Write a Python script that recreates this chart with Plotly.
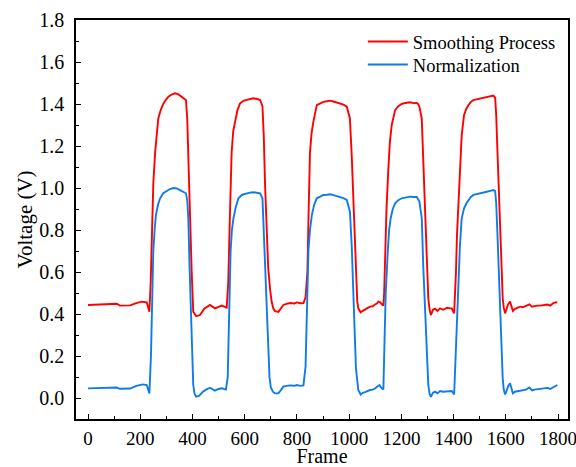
import plotly.graph_objects as go

# ---- data ----
red_frames = [0, 30, 60, 90, 110, 122, 140, 161, 185, 205, 225, 235, 240, 245, 250, 257, 263, 269, 278, 288,
              298, 308, 320, 333, 345, 352, 362, 375, 380, 385, 391, 397, 403, 414, 429, 445, 467, 486, 499, 512,
              531, 537, 543, 550, 556, 563, 572, 582, 595, 608, 620, 633, 645, 659, 668, 673, 678, 684, 690, 697,
              703, 710, 716, 729, 740, 748, 760, 774, 790, 800, 812, 825, 833, 840, 845, 850, 856, 863, 876, 889,
              901, 915, 927, 940, 952, 965, 978, 991, 1003, 1010, 1016, 1021, 1026, 1031, 1035, 1044, 1052, 1061, 1070, 1080,
              1090, 1099, 1106, 1112, 1120, 1125, 1131, 1134, 1137, 1143, 1150, 1156, 1163, 1176, 1188, 1201, 1215, 1233, 1246, 1259,
              1265, 1269, 1278, 1284, 1291, 1297, 1303, 1308, 1313, 1321, 1329, 1338, 1348, 1360, 1375, 1386, 1393, 1402, 1405, 1409,
              1413, 1418, 1424, 1431, 1440, 1448, 1457, 1466, 1476, 1490, 1502, 1514, 1527, 1540, 1552, 1559, 1563, 1568, 1573, 1578,
              1583, 1588, 1592, 1597, 1602, 1608, 1616, 1622, 1627, 1635, 1645, 1655, 1665, 1677, 1690, 1700, 1710, 1720, 1731, 1745,
              1760, 1770, 1782, 1790, 1797]
red_values = [0.443, 0.445, 0.447, 0.446, 0.449, 0.440, 0.439, 0.441, 0.452, 0.459, 0.455, 0.411, 0.55, 0.85, 1.02, 1.17, 1.27, 1.33, 1.37, 1.40,
              1.42, 1.435, 1.445, 1.451, 1.447, 1.440, 1.430, 1.419, 1.33, 1.15, 0.856, 0.60, 0.411, 0.390, 0.395, 0.425, 0.443, 0.427, 0.435, 0.440,
              0.430, 0.55, 0.85, 1.17, 1.27, 1.316, 1.37, 1.403, 1.415, 1.420, 1.425, 1.427, 1.425, 1.419, 1.39, 1.25, 1.014, 0.80, 0.62, 0.52,
              0.459, 0.425, 0.414, 0.410, 0.430, 0.443, 0.448, 0.452, 0.450, 0.455, 0.451, 0.452, 0.48, 0.60, 0.90, 1.17, 1.26, 1.316, 1.395, 1.403,
              1.410, 1.413, 1.416, 1.412, 1.408, 1.405, 1.397, 1.387, 1.33, 1.15, 0.935, 0.72, 0.54, 0.46, 0.427, 0.408, 0.415, 0.420, 0.428, 0.435,
              0.437, 0.445, 0.450, 0.459, 0.455, 0.446, 0.440, 0.50, 0.65, 0.90, 1.09, 1.22, 1.30, 1.371, 1.39, 1.40, 1.405, 1.408, 1.404, 1.405,
              1.398, 1.387, 1.33, 1.10, 0.856, 0.65, 0.475, 0.42, 0.395, 0.420, 0.425, 0.415, 0.427, 0.420, 0.430, 0.427, 0.427, 0.403, 0.48, 0.60,
              0.78, 0.935, 1.12, 1.252, 1.348, 1.375, 1.395, 1.410, 1.419, 1.423, 1.427, 1.430, 1.432, 1.437, 1.440, 1.430, 1.35, 1.17, 0.98, 0.776,
              0.60, 0.475, 0.43, 0.403, 0.420, 0.445, 0.459, 0.430, 0.415, 0.425, 0.430, 0.435, 0.432, 0.440, 0.446, 0.435, 0.438, 0.440, 0.440, 0.443,
              0.445, 0.440, 0.452, 0.455, 0.456]

blue_frames = [0, 30, 60, 90, 110, 122, 140, 161, 185, 210, 225, 235, 241, 245, 250, 255, 260, 268, 276, 288,
               301, 314, 327, 340, 352, 362, 375, 380, 384, 389, 394, 399, 403, 408, 414, 425, 440, 452, 467, 486,
               499, 512, 528, 535, 540, 546, 551, 557, 566, 576, 590, 608, 620, 633, 646, 659, 668, 673, 678, 684,
               690, 695, 700, 708, 716, 729, 740, 748, 760, 774, 790, 800, 812, 825, 833, 838, 844, 850, 857, 866,
               876, 889, 901, 915, 927, 940, 952, 965, 978, 991, 997, 1003, 1010, 1016, 1021, 1026, 1031, 1035, 1044, 1052,
               1061, 1070, 1080, 1090, 1099, 1108, 1116, 1122, 1131, 1135, 1140, 1148, 1153, 1159, 1167, 1176, 1188, 1201, 1215, 1233,
               1246, 1259, 1269, 1273, 1278, 1284, 1291, 1297, 1303, 1308, 1313, 1321, 1329, 1338, 1348, 1360, 1375, 1386, 1393, 1402,
               1406, 1409, 1413, 1418, 1424, 1431, 1440, 1448, 1457, 1466, 1476, 1490, 1502, 1514, 1527, 1540, 1552, 1559, 1563, 1568,
               1573, 1578, 1583, 1588, 1592, 1597, 1602, 1608, 1616, 1622, 1627, 1635, 1645, 1655, 1665, 1677, 1690, 1700, 1710, 1720,
               1731, 1745, 1760, 1770, 1782, 1790, 1797]
blue_values = [0.046, 0.047, 0.049, 0.048, 0.050, 0.044, 0.043, 0.045, 0.058, 0.065, 0.062, 0.022, 0.20, 0.45, 0.70, 0.80, 0.871, 0.92, 0.951, 0.975,
               0.986, 0.995, 1.000, 0.998, 0.990, 0.982, 0.975, 0.94, 0.856, 0.62, 0.38, 0.18, 0.062, 0.020, 0.006, 0.010, 0.030, 0.040, 0.049, 0.035,
               0.043, 0.046, 0.040, 0.10, 0.35, 0.70, 0.80, 0.856, 0.91, 0.951, 0.968, 0.975, 0.978, 0.980, 0.977, 0.975, 0.951, 0.80, 0.617, 0.40,
               0.22, 0.10, 0.05, 0.03, 0.022, 0.022, 0.040, 0.054, 0.058, 0.060, 0.058, 0.062, 0.058, 0.060, 0.15, 0.40, 0.70, 0.80, 0.871, 0.92,
               0.951, 0.959, 0.967, 0.968, 0.970, 0.966, 0.962, 0.959, 0.952, 0.943, 0.92, 0.887, 0.72, 0.538, 0.32, 0.141, 0.06, 0.038, 0.017, 0.025,
               0.028, 0.033, 0.038, 0.040, 0.045, 0.055, 0.062, 0.050, 0.040, 0.25, 0.50, 0.70, 0.80, 0.856, 0.90, 0.927, 0.942, 0.951, 0.956, 0.959,
               0.957, 0.957, 0.935, 0.90, 0.856, 0.62, 0.38, 0.18, 0.062, 0.020, 0.006, 0.025, 0.030, 0.022, 0.033, 0.030, 0.033, 0.033, 0.033, 0.017,
               0.15, 0.30, 0.42, 0.538, 0.72, 0.856, 0.903, 0.925, 0.943, 0.957, 0.967, 0.972, 0.976, 0.979, 0.982, 0.986, 0.990, 0.985, 0.93, 0.776,
               0.58, 0.38, 0.22, 0.094, 0.04, 0.017, 0.030, 0.055, 0.070, 0.040, 0.022, 0.030, 0.033, 0.035, 0.036, 0.040, 0.050, 0.036, 0.040, 0.042,
               0.043, 0.045, 0.048, 0.043, 0.052, 0.058, 0.062]

series_names = ["Smoothing Process", "Normalization"]
x_ticks = [0, 200, 400, 600, 800, 1000, 1200, 1400, 1600, 1800]
y_ticks = [0.0, 0.2, 0.4, 0.6, 0.8, 1.0, 1.2, 1.4, 1.6, 1.8]

FONT = "Liberation Serif"

fig = go.Figure()
fig.add_trace(go.Scatter(x=red_frames, y=red_values, mode="lines", name=series_names[0],
                         line=dict(color="#FF0000", width=1.9), legend="legend"))
fig.add_trace(go.Scatter(x=blue_frames, y=blue_values, mode="lines", name=series_names[1],
                         line=dict(color="#0F7BEB", width=1.9), legend="legend2"))

axis_common = dict(showline=True, linecolor="black", linewidth=1.5, mirror=True,
                   ticks="inside", ticklen=5, tickwidth=1.2, tickcolor="black",
                   showgrid=False, zeroline=False, automargin=False,
                   ticklabeloverflow="allow")

fig.update_xaxes(range=[-46, 1838], tickvals=x_ticks, ticktext=[str(v) for v in x_ticks],
                 minor=dict(dtick=100, tick0=0, ticks="inside", ticklen=3, tickwidth=1.2, tickcolor="black"),
                 title=dict(text="Frame", font=dict(family=FONT, size=20, color="black"), standoff=1),
                 tickfont=dict(family=FONT, size=19, color="black"),
                 ticklabelstandoff=1,
                 **axis_common)
fig.update_yaxes(range=[-0.1, 1.8], tickvals=y_ticks, ticktext=[f"{v:.1f}" for v in y_ticks],
                 minor=dict(dtick=0.1, tick0=0, ticks="inside", ticklen=3, tickwidth=1.2, tickcolor="black"),
                 title=dict(text="Voltage (V)", font=dict(family=FONT, size=21, color="black"), standoff=1),
                 tickfont=dict(family=FONT, size=20, color="black"),
                 ticklabelstandoff=6,
                 **axis_common)

legend_common = dict(xanchor="left", yanchor="top", bgcolor="rgba(0,0,0,0)", borderwidth=0,
                     font=dict(family=FONT, size=18.5, color="black"), itemwidth=40)

fig.update_layout(
    width=576, height=467,
    margin=dict(l=76, r=8, t=20, b=48, autoexpand=False),
    paper_bgcolor="white", plot_bgcolor="white",
    font=dict(family=FONT),
    showlegend=True,
    legend=dict(x=0.583, y=0.9925, **legend_common),
    legend2=dict(x=0.583, y=0.935, **legend_common),
)

fig.write_html("out.html", config={"displayModeBar": False},
               post_script="document.body.style.margin='0';document.body.style.padding='0';document.body.style.overflow='hidden';")
